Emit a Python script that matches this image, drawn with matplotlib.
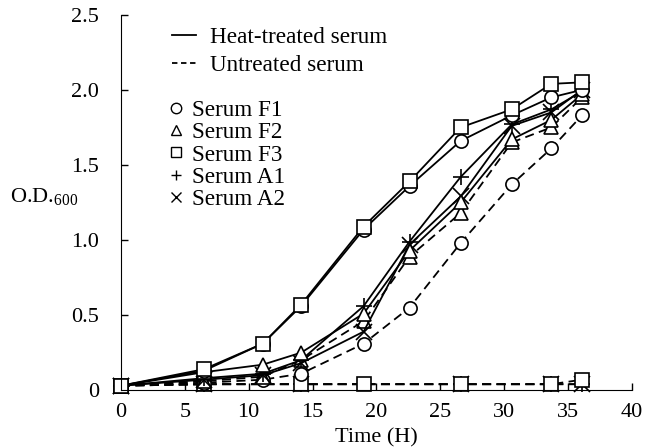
import matplotlib
matplotlib.use('Agg')
import matplotlib.pyplot as plt
from matplotlib.lines import Line2D

plt.rcParams['font.family'] = 'Liberation Serif'
plt.rcParams['mathtext.fontset'] = 'custom'
plt.rcParams['mathtext.rm'] = 'Liberation Serif'

# sampling times (hours)
t = [0, 6.5, 11.1, 14.1, 19.0, 22.6, 26.6, 30.6, 33.7, 36.1]
t_flat_f3 = [0, 6.5, 14.1, 19.0, 26.6, 33.7, 36.1]
t_flat_a = [0, 6.5, 14.1, 26.6, 33.7, 36.1]

# heat-treated serum (solid)
heat_F1 = [0.03, 0.13, 0.31, 0.56, 1.07, 1.36, 1.66, 1.83, 1.95, 2.00]
heat_F2 = [0.03, 0.12, 0.17, 0.25, 0.51, 0.93, 1.25, 1.67, 1.80, 1.97]
heat_F3 = [0.03, 0.14, 0.31, 0.57, 1.09, 1.39, 1.75, 1.87, 2.04, 2.05]
heat_A1 = [0.03, 0.08, 0.11, 0.20, 0.56, 0.99, 1.42, 1.77, 1.87, 1.99]
heat_A2 = [0.03, 0.07, 0.10, 0.18, 0.39, 0.97, 1.29, 1.76, 1.85, 2.00]

# untreated serum (dashed)
untr_F1 = [0.03, 0.05, 0.07, 0.11, 0.31, 0.55, 0.98, 1.37, 1.61, 1.83]
untr_F2 = [0.03, 0.06, 0.09, 0.20, 0.46, 0.89, 1.18, 1.65, 1.75, 1.95]
untr_F3 = [0.03, 0.04, 0.04, 0.04, 0.04, 0.04, 0.07]
untr_A1 = [0.03, 0.04, 0.04, 0.04, 0.04, 0.04]
untr_A2 = [0.03, 0.04, 0.04, 0.04, 0.04, 0.04]

names = ['Serum F1', 'Serum F2', 'Serum F3', 'Serum A1', 'Serum A2']
marks = ['o', '^', 's', '+', 'x']
yticks = [0, 0.5, 1.0, 1.5, 2.0, 2.5]
ytick_labels = ['0', '0.5', '1.0', '1.5', '2.0', '2.5']

fig = plt.figure(figsize=(6.54, 4.48), dpi=100)
ax = fig.add_axes([0.185, 0.129, 0.781, 0.838])

def draw(x, y, m, ls):
    ax.plot(x, y, marker=m, linestyle=ls, color='black', linewidth=1.3,
            markersize=9.5 if m not in '+x' else 11, markerfacecolor='white',
            markeredgecolor='black', markeredgewidth=1.2, clip_on=False,
            dashes=(5, 3) if ls == '--' else (None, None))

draw(t_flat_a, untr_A1, '+', '--')
draw(t_flat_a, untr_A2, 'x', '--')
draw(t_flat_f3, untr_F3, 's', '--')
draw(t, untr_F1, 'o', '--')
draw(t, untr_F2, '^', '--')
draw(t, heat_A2, 'x', '-')
draw(t, heat_A1, '+', '-')
draw(t, heat_F2, '^', '-')
draw(t, heat_F1, 'o', '-')
draw(t, heat_F3, 's', '-')

ax.set_xlim(0, 40)
ax.set_ylim(0, 2.5)
ax.set_xticks(range(0, 41, 5))
ax.set_yticks(yticks)
ax.set_yticklabels(ytick_labels)
ax.tick_params(direction='in', length=5, labelsize=16, width=1)
ax.tick_params(axis='y', pad=16)
ax.tick_params(axis='x', pad=9)
ax.spines['top'].set_visible(False)
ax.spines['right'].set_visible(False)

ax.set_xlabel('Time (H)', fontsize=16, labelpad=5)
ax.set_ylabel('O.D.$_{\\mathrm{600}}$', fontsize=16, rotation=0, ha='right', va='center')
ax.yaxis.set_label_coords(-0.084, 0.515)

line_handles = [Line2D([], [], color='black', linewidth=1.3),
                Line2D([], [], color='black', linewidth=1.3, dashes=(3, 2))]
leg1 = ax.legend(line_handles, ['Heat-treated serum', 'Untreated serum'],
                 loc='upper left', bbox_to_anchor=(0.1, 0.968), frameon=False,
                 fontsize=16.7, handlelength=1.05, handletextpad=0.6,
                 labelspacing=0.28, borderpad=0, borderaxespad=0)
ax.add_artist(leg1)

mark_handles = [Line2D([], [], linestyle='none', marker=m, color='black',
                       markerfacecolor='white', markersize=7.5, markeredgewidth=1)
                for m in marks]
ax.legend(mark_handles, names, loc='upper left', bbox_to_anchor=(0.09, 0.773),
          frameon=False, fontsize=16.7, handlelength=0.8, handletextpad=0.3,
          labelspacing=0.04, borderpad=0, borderaxespad=0)

fig.savefig('out.png', dpi=100)
